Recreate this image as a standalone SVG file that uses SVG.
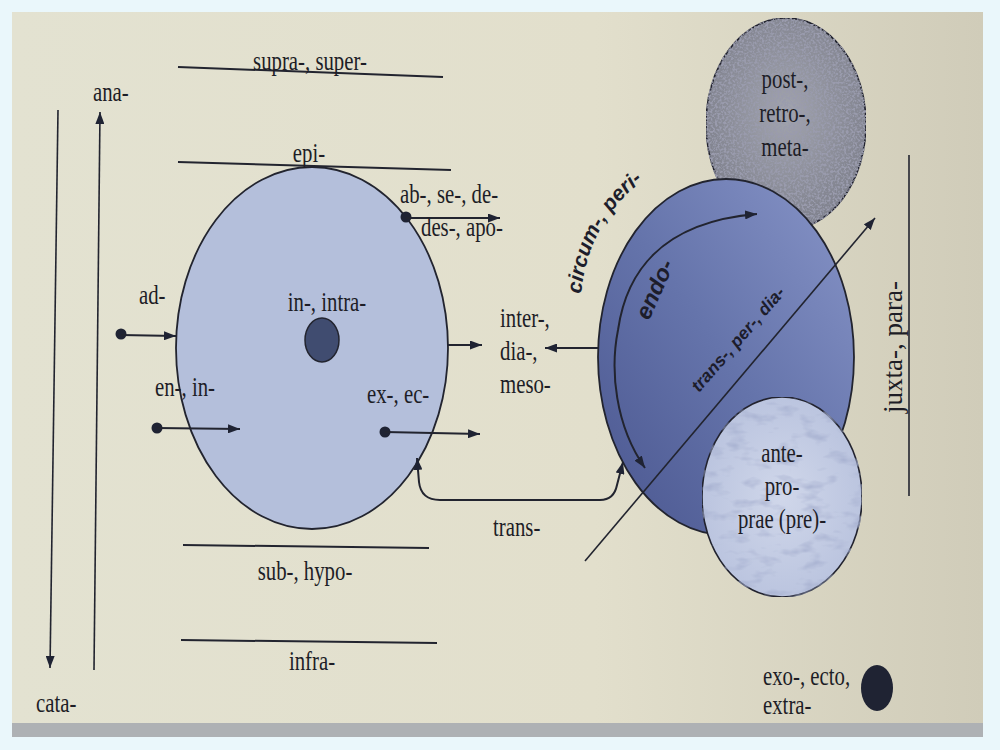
<svg xmlns="http://www.w3.org/2000/svg" width="1000" height="750" viewBox="0 0 1000 750">
<style>
.t{font-family:"Liberation Serif","Times New Roman",serif;font-size:27px;fill:#1d1d26}
.m{text-anchor:middle}
.b{font-family:"Liberation Sans",Arial,sans-serif;font-weight:bold;font-style:italic;fill:#1d1d2b}
.ln{stroke:#22242f;stroke-width:2;fill:none}
.thin{stroke:#22242f;stroke-width:1.6;fill:none}
.dot{fill:#1f2333}
</style>
<defs>
<marker id="ah" viewBox="0 0 12 9" refX="12" refY="4.5" markerWidth="12" markerHeight="9" markerUnits="userSpaceOnUse" orient="auto-start-reverse">
<path d="M0,0 L12,4.5 L0,9 z" fill="#1f2333"/>
</marker>
<linearGradient id="bg" x1="0" y1="0" x2="1" y2="0">
<stop offset="0" stop-color="#e3e2d1"/>
<stop offset="0.6" stop-color="#e2dfcc"/>
<stop offset="1" stop-color="#d0ccb9"/>
</linearGradient>
<linearGradient id="big" x1="0" y1="1" x2="1" y2="0">
<stop offset="0" stop-color="#4a568f"/>
<stop offset="0.5" stop-color="#6574ab"/>
<stop offset="1" stop-color="#8895c8"/>
</linearGradient>
<radialGradient id="post" cx="0.5" cy="0.45" r="0.6">
<stop offset="0" stop-color="#a2a4ae"/>
<stop offset="1" stop-color="#7c7e8a"/>
</radialGradient>
<radialGradient id="ante" cx="0.5" cy="0.5" r="0.6">
<stop offset="0" stop-color="#d0d7ea"/>
<stop offset="1" stop-color="#b7c1dd"/>
</radialGradient>
<filter id="speck" x="0" y="0" width="100%" height="100%">
<feTurbulence type="fractalNoise" baseFrequency="0.45" numOctaves="2" seed="3" result="n"/>
<feColorMatrix in="n" type="matrix" values="0 0 0 0 0.32  0 0 0 0 0.33  0 0 0 0 0.42  0 0 0 4 -1.7" result="m"/>
<feComposite in="m" in2="SourceGraphic" operator="in" result="c"/>
<feMerge><feMergeNode in="SourceGraphic"/><feMergeNode in="c"/></feMerge>
</filter>
<filter id="blot" x="0" y="0" width="100%" height="100%">
<feTurbulence type="fractalNoise" baseFrequency="0.04 0.09" numOctaves="3" seed="7" result="n"/>
<feColorMatrix in="n" type="matrix" values="0 0 0 0 0.35  0 0 0 0 0.4  0 0 0 0 0.6  0 0 0 2.2 -1.15" result="m"/>
<feComposite in="m" in2="SourceGraphic" operator="in" result="c"/>
<feMerge><feMergeNode in="SourceGraphic"/><feMergeNode in="c"/></feMerge>
</filter>
</defs>

<rect x="0" y="0" width="1000" height="750" fill="#eaf7fb"/>
<rect x="12" y="12" width="971" height="725" fill="url(#bg)"/>
<rect x="12" y="723" width="971" height="14" fill="#aeb1b4"/>

<g id="post-node">
<ellipse cx="786" cy="124" rx="80" ry="106" fill="url(#post)" stroke="#22242f" stroke-width="1.6" filter="url(#speck)"/>
<text class="t m" transform="translate(785,88) scale(0.77,1)">post-,</text>
<text class="t m" transform="translate(785,122) scale(0.77,1)">retro-,</text>
<text class="t m" transform="translate(785,156) scale(0.77,1)">meta-</text>
</g>

<g id="outer-circle">
<ellipse cx="726" cy="357" rx="128" ry="178" fill="url(#big)" stroke="#22242f" stroke-width="1.8"/>
</g>

<g id="ante-node">
<ellipse cx="782" cy="497" rx="80" ry="100" fill="url(#ante)" stroke="#22242f" stroke-width="1.6" filter="url(#blot)"/>
<text class="t m" transform="translate(782,462) scale(0.77,1)">ante-</text>
<text class="t m" transform="translate(782,495) scale(0.77,1)">pro-</text>
<text class="t m" transform="translate(782,528) scale(0.77,1)">prae (pre)-</text>
</g>

<g id="main-circle">
<ellipse cx="312" cy="348" rx="136" ry="181" fill="#b4bfdb" stroke="#22242f" stroke-width="1.8"/>
<ellipse cx="322" cy="340" rx="17" ry="22" fill="#404c70" stroke="#22242f" stroke-width="1.5"/>
<text class="t m" transform="translate(327,311) scale(0.77,1)">in-, intra-</text>
</g>

<g id="exo-node">
<ellipse cx="877" cy="688" rx="16" ry="23" class="dot"/>
<text class="t" transform="translate(763,685) scale(0.77,1)">exo-, ecto,</text>
<text class="t" transform="translate(763,714) scale(0.77,1)">extra-</text>
</g>

<g id="connectors">
<line class="ln" x1="178" y1="67" x2="443" y2="77"/>
<line class="ln" x1="178" y1="162" x2="451" y2="170"/>
<line class="ln" x1="183" y1="545" x2="429" y2="548"/>
<line class="ln" x1="181" y1="640" x2="437" y2="643"/>
<line class="thin" x1="58" y1="110" x2="50" y2="668" marker-end="url(#ah)"/>
<line class="thin" x1="94" y1="670" x2="100" y2="112" marker-end="url(#ah)"/>
<circle cx="121" cy="334" r="5.5" class="dot"/>
<line class="ln" x1="121" y1="335" x2="176" y2="336" marker-end="url(#ah)"/>
<circle cx="157" cy="428" r="5.5" class="dot"/>
<line class="ln" x1="157" y1="428" x2="240" y2="429" marker-end="url(#ah)"/>
<circle cx="385" cy="432" r="5.5" class="dot"/>
<line class="ln" x1="385" y1="432" x2="480" y2="434" marker-end="url(#ah)"/>
<circle cx="406" cy="217" r="5.5" class="dot"/>
<line class="ln" x1="406" y1="218" x2="500" y2="218" marker-end="url(#ah)"/>
<line class="ln" x1="448" y1="345" x2="482" y2="345" marker-end="url(#ah)"/>
<line class="ln" x1="598" y1="348" x2="545" y2="348" marker-end="url(#ah)"/>
<path class="ln" d="M417,458 L419,482 Q421,500 440,500 L600,500 Q614,500 617,485 L623,462" marker-start="url(#ah)" marker-end="url(#ah)"/>
<path class="ln" d="M645,468 C615,425 610,370 618,330 C626,274 660,222 757,214" marker-start="url(#ah)" marker-end="url(#ah)"/>
<line class="thin" x1="585" y1="561" x2="875" y2="218" marker-end="url(#ah)"/>
<line class="thin" x1="909" y1="155" x2="909" y2="496"/>
</g>

<g id="labels">
<text class="t m" transform="translate(310,70) scale(0.77,1)">supra-, super-</text>
<text class="t m" transform="translate(309,162) scale(0.77,1)">epi-</text>
<text class="t" transform="translate(93,101) scale(0.77,1)">ana-</text>
<text class="t" transform="translate(36,712) scale(0.77,1)">cata-</text>
<text class="t" transform="translate(400,203) scale(0.77,1)">ab-, se-, de-</text>
<text class="t" transform="translate(421,236) scale(0.77,1)">des-, apo-</text>
<text class="t" transform="translate(139,304) scale(0.77,1)">ad-</text>
<text class="t" transform="translate(155,396) scale(0.77,1)">en-, in-</text>
<text class="t" transform="translate(367,403) scale(0.77,1)">ex-, ec-</text>
<text class="t" transform="translate(500,327) scale(0.77,1)">inter-,</text>
<text class="t" transform="translate(500,360) scale(0.77,1)">dia-,</text>
<text class="t" transform="translate(500,393) scale(0.77,1)">meso-</text>
<text class="t" transform="translate(493,536) scale(0.77,1)">trans-</text>
<text class="t m" transform="translate(305,580) scale(0.77,1)">sub-, hypo-</text>
<text class="t m" transform="translate(312,670) scale(0.77,1)">infra-</text>
<text class="t m" font-size="28" transform="translate(902,347) rotate(-90)">juxta-, para-</text>
<path id="circpath" d="M581,294 Q589,216 652,174" fill="none"/>
<text class="b" font-size="21"><textPath href="#circpath">circum-, peri-</textPath></text>
<text class="b" font-size="23" transform="translate(649,321) rotate(-66)">endo-</text>
<text class="b" font-size="17.5" transform="translate(699,393) rotate(-49)">trans-, per-, dia-</text>
</g>
</svg>
